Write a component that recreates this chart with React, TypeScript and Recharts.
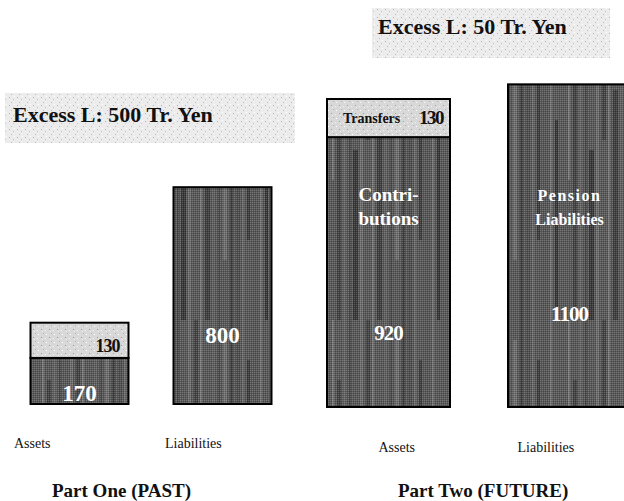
import React from "react";
import { BarChart, Bar, XAxis, YAxis } from "recharts";

// balance sheet figures, trillion yen
const categories = ["Assets", "Liabilities"];
const pastBase = [170, 800];
const pastTop = [130, 0];
const futureBase = [920, 1100];
const futureTop = [130, 0];
const futureBaseNames = [["Contri-", "butions"], ["Pension", "Liabilities"]];
const futureTopName = "Transfers";
const partTitles = ["Part One (PAST)", "Part Two (FUTURE)"];

const FONT = '"Liberation Serif", "Times New Roman", serif';

const total = (base: number[], top: number[], i: number) => base[i] + top[i];
const pastExcess = total(pastBase, pastTop, 1) - total(pastBase, pastTop, 0);
const futureExcess = total(futureBase, futureTop, 1) - total(futureBase, futureTop, 0);

const pastRows = categories.map((name, i) => ({ name, base: pastBase[i], top: pastTop[i] }));
const futureRows = categories.map((name, i) => ({ name, base: futureBase[i], top: futureTop[i] }));

// wood-grain streaks: [x, width, y, height, colour]
const streaks: [number, number, number, number, string][] = [
  [0, 4, 0, 320, "#505050"], [6, 2, 0, 320, "#6c6c6c"], [11, 3, 40, 200, "#3e3e3e"],
  [17, 5, 0, 320, "#585858"], [24, 2, 0, 320, "#747474"], [29, 3, 120, 200, "#383838"],
  [34, 6, 0, 320, "#5a5a5a"], [42, 2, 0, 180, "#7a7a7a"], [47, 4, 60, 260, "#444444"],
  [53, 3, 0, 320, "#666666"], [59, 2, 0, 320, "#4a4a4a"], [63, 5, 150, 170, "#3a3a3a"],
  [70, 3, 0, 320, "#6e6e6e"], [76, 4, 0, 140, "#454545"], [82, 2, 0, 320, "#787878"],
  [87, 5, 90, 230, "#404040"], [94, 3, 0, 320, "#626262"], [100, 2, 0, 320, "#4c4c4c"],
  [105, 4, 20, 240, "#707070"], [112, 3, 0, 320, "#424242"],
];

function Textures() {
  return (
    <defs>
      <pattern id="dither" width="2" height="2" patternUnits="userSpaceOnUse">
        <rect x="0" y="0" width="1" height="1" fill="rgba(255,255,255,0.16)" />
        <rect x="1" y="1" width="1" height="1" fill="rgba(0,0,0,0.2)" />
      </pattern>
      <pattern id="wood" width="118" height="320" patternUnits="userSpaceOnUse">
        <rect width="118" height="320" fill="#5a5a5a" />
        {streaks.map(([x, w, y, h, c]) => (
          <rect key={x} x={x} y={y} width={w} height={h} fill={c} />
        ))}
        <rect width="118" height="320" fill="url(#dither)" />
      </pattern>
      <pattern id="speckle" width="8" height="8" patternUnits="userSpaceOnUse">
        <rect width="8" height="8" fill="#d8d8d8" />
        <rect x="1" y="1" width="1" height="1" fill="#a0a0a0" />
        <rect x="5" y="2" width="1" height="1" fill="#f4f4f4" />
        <rect x="3" y="5" width="1" height="1" fill="#b0b0b0" />
        <rect x="6" y="6" width="1" height="1" fill="#ffffff" />
        <rect x="2" y="3" width="1" height="1" fill="#f0f0f0" />
      </pattern>
      <pattern id="haze" width="8" height="8" patternUnits="userSpaceOnUse">
        <rect width="8" height="8" fill="#ececec" />
        <rect x="1" y="1" width="1" height="1" fill="#b4b4b4" />
        <rect x="5" y="3" width="1" height="1" fill="#c4c4c4" />
        <rect x="3" y="6" width="1" height="1" fill="#bcbcbc" />
        <rect x="6" y="0" width="1" height="1" fill="#ffffff" />
      </pattern>
    </defs>
  );
}

// text placement inside the dark base segments, offsets from segment top
const pastValueDy = [43, 156];
const futureValueDy = [203, 237];
const futureNameDy = [64, 117];

function pastBaseShape(props: any) {
  const { x, y, width, height, index } = props;
  if (!height || height <= 0) return <g />;
  return (
    <g>
      <rect x={x} y={y} width={width} height={height} fill="url(#wood)" stroke="#000" strokeWidth={2} />
      <text x={x + width / 2} y={y + pastValueDy[index]} textAnchor="middle" fontFamily={FONT}
        fontWeight="bold" fontSize={23} fill="#fff">{pastBase[index]}</text>
    </g>
  );
}

function pastTopShape(props: any) {
  const { x, y, width, height, index } = props;
  if (!height || height <= 0) return <g />;
  return (
    <g>
      <rect x={x} y={y} width={width} height={height} fill="url(#speckle)" stroke="#000" strokeWidth={2} />
      <text x={x + width - 9} y={y + 29} textAnchor="end" fontFamily={FONT}
        fontWeight="bold" fontSize={18} letterSpacing={-1} fill="#111">{pastTop[index]}</text>
    </g>
  );
}

function futureBaseShape(props: any) {
  const { x, y, width, height, index } = props;
  if (!height || height <= 0) return <g />;
  const cx = x + width / 2;
  const spaced = index === 1;
  return (
    <g>
      <rect x={x} y={y} width={width} height={height} fill="url(#wood)" stroke="#000" strokeWidth={2} />
      {futureBaseNames[index].map((line, k) => (
        <text key={line} x={cx} y={y + futureNameDy[index] + k * 24} textAnchor="middle"
          fontFamily={FONT} fontWeight="bold" fontSize={spaced ? 16 : 19}
          letterSpacing={spaced && k === 0 ? 1.5 : 0} fill="#fff">{line}</text>
      ))}
      <text x={cx} y={y + futureValueDy[index]} textAnchor="middle" fontFamily={FONT}
        fontWeight="bold" fontSize={21} letterSpacing={-1} fill="#fff">{futureBase[index]}</text>
    </g>
  );
}

function futureTopShape(props: any) {
  const { x, y, width, height, index } = props;
  if (!height || height <= 0) return <g />;
  return (
    <g>
      <rect x={x} y={y} width={width} height={height} fill="url(#speckle)" stroke="#000" strokeWidth={2} />
      <text x={x + 16} y={y + 24} fontFamily={FONT} fontWeight="bold" fontSize={14} fill="#111">
        {futureTopName}
      </text>
      <text x={x + width - 7} y={y + 25} textAnchor="end" fontFamily={FONT} fontWeight="bold"
        fontSize={19} letterSpacing={-1.5} fill="#111">{futureTop[index]}</text>
    </g>
  );
}

const makeTick = (dxs: number[], dy: number) => (p: any) => (
  <text x={p.x + dxs[p.index]} y={p.y + dy} fontFamily={FONT} fontSize={14} fill="#111">
    {p.payload.value}
  </text>
);

export default function App() {
  return (
    <div style={{ position: "absolute", left: 0, top: 0, width: 624, height: 501, overflow: "hidden", background: "#fff" }}>
      <svg width={624} height={501} style={{ position: "absolute", left: 0, top: 0 }}>
        <Textures />
        <rect x={5} y={93} width={290} height={50} fill="url(#haze)" />
        <text x={13} y={122} fontFamily={FONT} fontWeight="bold" fontSize={22} fill="#111">
          {`Excess L: ${pastExcess} Tr. Yen`}
        </text>
        <rect x={372} y={8} width={238} height={50} fill="url(#haze)" />
        <text x={378} y={34} fontFamily={FONT} fontWeight="bold" fontSize={22} fill="#111">
          {`Excess L: ${futureExcess} Tr. Yen`}
        </text>
        <text x={52} y={497} fontFamily={FONT} fontWeight="bold" fontSize={19} fill="#111">{partTitles[0]}</text>
        <text x={398} y={497} fontFamily={FONT} fontWeight="bold" fontSize={19} fill="#111">{partTitles[1]}</text>
      </svg>

      <div style={{ position: "absolute", left: 0, top: 0 }}>
        <BarChart width={300} height={501} data={pastRows}
          margin={{ top: 133, right: 6.5, bottom: 57, left: 7.5 }} barCategoryGap={0}>
          <XAxis dataKey="name" axisLine={false} tickLine={false} height={40}
            tick={makeTick([-65, -57], 36)} interval={0} />
          <YAxis hide domain={[0, 1000]} />
          <Bar dataKey="base" stackId="a" barSize={98} shape={pastBaseShape} isAnimationActive={false} />
          <Bar dataKey="top" stackId="a" barSize={98} shape={pastTopShape} isAnimationActive={false} />
        </BarChart>
      </div>

      <div style={{ position: "absolute", left: 290, top: 0 }}>
        <BarChart width={375} height={501} data={futureRows}
          margin={{ top: 55, right: 5, bottom: 54, left: 8 }} barCategoryGap={0}>
          <XAxis dataKey="name" axisLine={false} tickLine={false} height={40}
            tick={makeTick([-10, -52], 37)} interval={0} />
          <YAxis hide domain={[0, 1200]} />
          <Bar dataKey="base" stackId="b" barSize={123} shape={futureBaseShape} isAnimationActive={false} />
          <Bar dataKey="top" stackId="b" barSize={123} shape={futureTopShape} isAnimationActive={false} />
        </BarChart>
      </div>
    </div>
  );
}
